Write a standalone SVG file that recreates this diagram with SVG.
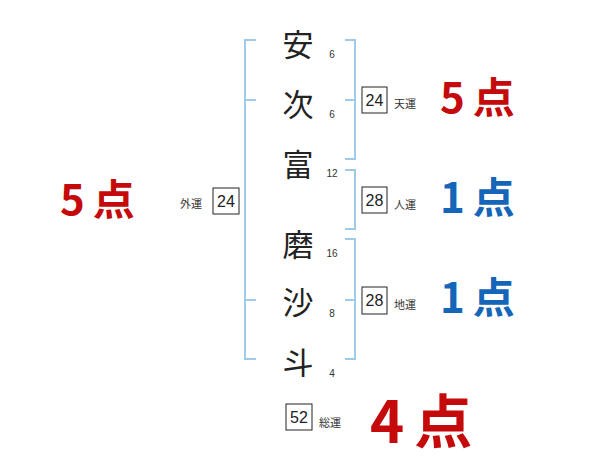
<svg xmlns="http://www.w3.org/2000/svg" width="600" height="470" viewBox="0 0 600 470">
<style>
.br{fill:none;stroke:#9fcbe9;stroke-width:2}
.nm{font-family:"Noto Sans CJK JP","Noto Sans",sans-serif;font-size:31px;fill:#222;text-anchor:middle;dominant-baseline:central}
.sm{font-family:"Liberation Sans","Noto Sans",sans-serif;font-size:10px;fill:#333;text-anchor:middle;dominant-baseline:central}
.bx{fill:#fff;stroke:#222;stroke-width:1}
.bn{font-family:"Liberation Sans","Noto Sans",sans-serif;font-size:16px;fill:#222;text-anchor:middle;dominant-baseline:central}
.lb{font-family:"Noto Sans CJK JP",sans-serif;font-size:11px;fill:#333;dominant-baseline:central}
.sc{font-family:"Noto Sans CJK JP","Noto Sans",sans-serif;font-weight:bold;dominant-baseline:central}
.red{fill:#c40a0a}
.blue{fill:#1565b8}
</style>
<g id="connectors">
<path class="br" d="M256,40 H245 V359 H256 M245,100 H256 M245,300 H256"/>
<path class="br" d="M345,40 H355 V159 H345 M345,100 H355"/>
<path class="br" d="M345,170 H355 V229 H345"/>
<path class="br" d="M345,239 H355 V359 H345 M345,300 H355"/>
</g>
<g id="name">
<text class="nm" x="298" y="42">安</text>
<text class="nm" x="298" y="102">次</text>
<text class="nm" x="298" y="162">富</text>
<text class="nm" x="298" y="242">磨</text>
<text class="nm" x="298" y="300">沙</text>
<text class="nm" x="298" y="360">斗</text>
</g>
<g id="strokes">
<text class="sm" x="332" y="54">6</text>
<text class="sm" x="332" y="114">6</text>
<text class="sm" x="332" y="173">12</text>
<text class="sm" x="332" y="253">16</text>
<text class="sm" x="332" y="313">8</text>
<text class="sm" x="332" y="373">4</text>
</g>
<g id="gaiun">
<rect class="bx" x="213" y="188" width="26" height="26"/>
<text class="bn" x="226" y="201">24</text>
<text class="lb" x="180" y="203">外運</text>
<text class="sc red" x="60" y="196" font-size="42">5<tspan dx="8">点</tspan></text>
</g>
<g id="tenun">
<rect class="bx" x="362" y="87" width="25" height="26"/>
<text class="bn" x="374.5" y="100">24</text>
<text class="lb" x="394" y="103">天運</text>
<text class="sc red" x="440" y="94" font-size="42">5<tspan dx="8">点</tspan></text>
</g>
<g id="jinun">
<rect class="bx" x="362" y="187" width="25" height="26"/>
<text class="bn" x="374.5" y="200">28</text>
<text class="lb" x="394" y="204">人運</text>
<text class="sc blue" x="440" y="194" font-size="42">1<tspan dx="8">点</tspan></text>
</g>
<g id="chiun">
<rect class="bx" x="362" y="287" width="25" height="27"/>
<text class="bn" x="374.5" y="300.5">28</text>
<text class="lb" x="394" y="304">地運</text>
<text class="sc blue" x="440" y="294" font-size="42">1<tspan dx="8">点</tspan></text>
</g>
<g id="soun">
<rect class="bx" x="286" y="404" width="26" height="26"/>
<text class="bn" x="299" y="417">52</text>
<text class="lb" x="319" y="422">総運</text>
<text class="sc red" x="370" y="418" font-size="58">4<tspan dx="10">点</tspan></text>
</g>
</svg>
